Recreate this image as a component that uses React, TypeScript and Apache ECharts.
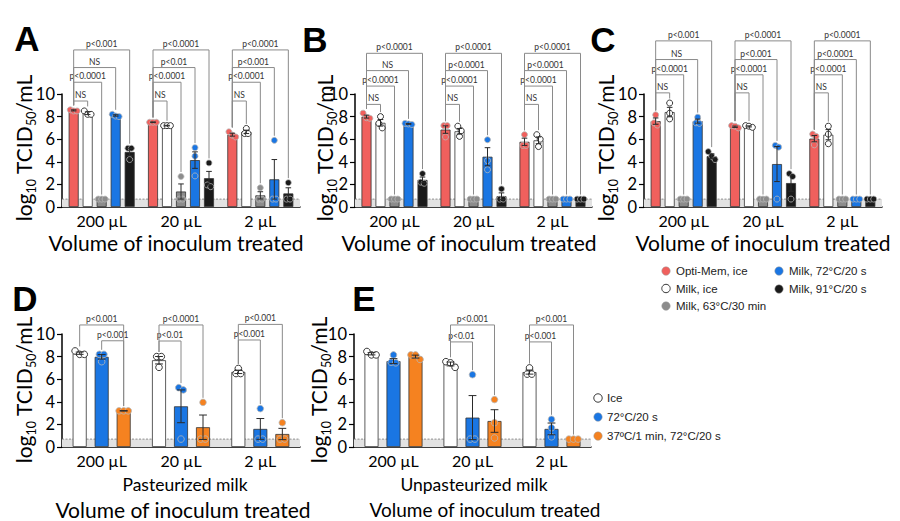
import React, { useEffect, useRef } from 'react';
import * as echarts from 'echarts';

// ---------- categories & series ----------
const volumes = ['200 µL', '20 µL', '2 µL'];
const abcNames = ['Opti-Mem, ice', 'Milk, ice', 'Milk, 63°C/30 min', 'Milk, 72°C/20 s', 'Milk, 91°C/20 s'];
const abcColors = ['#f0605d', '#ffffff', '#8c8c8c', '#1a76e3', '#1a1a1a'];
const deNames = ['Ice', '72°C/20 s', '37ºC/1 min, 72°C/20 s'];
const deColors = ['#ffffff', '#1a76e3', '#f58220'];
const lod = 0.7;

// ---------- Panel A ----------
const aMean = [
  [8.55, 7.5, 6.4],
  [8.3, 7.2, 6.65],
  [0.7, 1.37, 1.03],
  [8.1, 4.15, 2.45],
  [4.87, 2.55, 1.2],
];
const aSem = [
  [0.05, 0.03, 0.13],
  [0.12, 0.03, 0.15],
  [0, 0.67, 0.32],
  [0.06, 0.73, 1.75],
  [0.33, 0.6, 0.5],
];
const aPts = [
  [[8.6, 8.5, 8.5], [7.5, 7.5, 7.5], [6.65, 6.35, 6.2]],
  [[8.5, 8.2, 8.2], [7.2, 7.2, 7.2], [6.95, 6.5, 6.5]],
  [[0.7, 0.7, 0.7], [2.7, 0.7, 0.7], [1.7, 0.7, 0.7]],
  [[8.2, 8.05, 8.0], [5.25, 4.5, 2.75], [5.9, 0.7, 0.7]],
  [[5.2, 5.2, 4.2], [3.9, 1.95, 1.8], [2.15, 0.7, 0.7]],
];
const aBrackets = [
  [0, 0, 1, 9.38, 'NS'], [0, 0, 2, 11.04, 'p<0.0001'], [0, 0, 3, 12.34, 'NS'], [0, 0, 4, 13.9, 'p<0.001'],
  [1, 0, 1, 9.38, 'NS'], [1, 0, 2, 11.04, 'p<0.0001'], [1, 0, 3, 12.34, 'p<0.01'], [1, 0, 4, 13.9, 'p<0.0001'],
  [2, 0, 1, 9.38, 'NS'], [2, 0, 2, 11.04, 'p<0.0001'], [2, 0, 3, 12.34, 'p<0.001'], [2, 0, 4, 13.9, 'p<0.0001'],
];

// ---------- Panel B ----------
const bMean = [
  [8.0, 6.85, 5.77],
  [7.45, 6.7, 5.9],
  [0.7, 0.7, 0.7],
  [7.35, 4.45, 0.7],
  [2.4, 0.95, 0.7],
];
const bSem = [
  [0.13, 0.33, 0.32],
  [0.29, 0.25, 0.3],
  [0, 0, 0],
  [0.03, 0.8, 0],
  [0.25, 0.3, 0],
];
const bPts = [
  [[8.3, 7.9, 7.85], [7.2, 7.2, 6.2], [6.4, 5.45, 5.45]],
  [[8.0, 7.4, 7.0], [7.15, 6.75, 6.25], [6.4, 6.0, 5.35]],
  [[0.7, 0.7, 0.7], [0.7, 0.7, 0.7], [0.7, 0.7, 0.7]],
  [[7.4, 7.35, 7.3], [5.95, 4.1, 3.3], [0.7, 0.7, 0.7]],
  [[2.95, 2.2, 2.1], [1.6, 0.7, 0.7], [0.7, 0.7, 0.7]],
];
const bBrackets = [
  [0, 0, 1, 9.08, 'NS'], [0, 0, 2, 10.7, 'p<0.0001'], [0, 0, 3, 12.07, 'NS'], [0, 0, 4, 13.6, 'p<0.0001'],
  [1, 0, 1, 9.08, 'NS'], [1, 0, 2, 10.7, 'p<0.0001'], [1, 0, 3, 12.07, 'p<0.0001'], [1, 0, 4, 13.6, 'p<0.0001'],
  [2, 0, 1, 9.08, 'NS'], [2, 0, 2, 10.7, 'p<0.0001'], [2, 0, 3, 12.07, 'p<0.0001'], [2, 0, 4, 13.6, 'p<0.0001'],
];

// ---------- Panel C ----------
const cMean = [
  [7.6, 7.1, 6.05],
  [8.4, 7.13, 6.4],
  [0.7, 0.7, 0.7],
  [7.6, 3.8, 0.7],
  [4.5, 2.12, 0.7],
];
const cSem = [
  [0.28, 0.06, 0.28],
  [0.42, 0.05, 0.45],
  [0, 0, 0],
  [0.18, 1.55, 0],
  [0.2, 0.72, 0],
];
const cPts = [
  [[8.15, 7.45, 7.25], [7.2, 7.15, 7.0], [6.45, 6.25, 5.5]],
  [[9.2, 8.3, 7.8], [7.2, 7.15, 7.05], [7.15, 6.45, 5.6]],
  [[0.7, 0.7, 0.7], [0.7, 0.7, 0.7], [0.7, 0.7, 0.7]],
  [[7.95, 7.45, 7.4], [5.45, 5.3, 0.7], [0.7, 0.7, 0.7]],
  [[4.9, 4.5, 4.2], [2.95, 2.7, 0.7], [0.7, 0.7, 0.7]],
];
const cBrackets = [
  [0, 0, 1, 10.1, 'NS'], [0, 0, 2, 11.7, 'p<0.0001'], [0, 0, 3, 13.05, 'NS'], [0, 0, 4, 14.7, 'p<0.001'],
  [1, 0, 1, 10.1, 'NS'], [1, 0, 2, 11.7, 'p<0.0001'], [1, 0, 3, 13.05, 'p<0.001'], [1, 0, 4, 14.7, 'p<0.0001'],
  [2, 0, 1, 10.1, 'NS'], [2, 0, 2, 11.7, 'p<0.0001'], [2, 0, 3, 13.05, 'p<0.0001'], [2, 0, 4, 14.7, 'p<0.0001'],
];

// ---------- Panel D (pasteurized) ----------
const dMean = [
  [8.3, 7.68, 6.65],
  [7.98, 3.6, 1.6],
  [3.2, 1.75, 1.15],
];
const dSem = [
  [0.1, 0.33, 0.15],
  [0.2, 1.45, 0.92],
  [0.02, 1.08, 0.5],
];
const dPts = [
  [[8.5, 8.2, 8.2], [8.0, 8.0, 7.05], [6.95, 6.5, 6.5]],
  [[8.2, 8.2, 7.55], [5.25, 5.05, 0.7], [3.4, 0.7, 0.7]],
  [[3.2, 3.2, 3.2], [3.95, 0.7, 0.7], [2.15, 0.7, 0.7]],
];
const dBrackets = [
  [0, 1, 2, 9.4, 'p<0.001'], [0, 0, 2, 10.8, 'p<0.001'],
  [1, 0, 1, 9.38, 'p<0.01'], [1, 0, 2, 10.8, 'p<0.0001'],
  [2, 0, 1, 9.47, 'p<0.001'], [2, 0, 2, 10.85, 'p<0.001'],
];

// ---------- Panel E (unpasteurized) ----------
const eMean = [
  [8.25, 7.35, 6.63],
  [7.6, 2.6, 1.6],
  [8.0, 2.3, 0.7],
];
const eSem = [
  [0.1, 0.17, 0.18],
  [0.22, 1.95, 0.52],
  [0.13, 1.0, 0],
];
const ePts = [
  [[8.45, 8.15, 8.15], [7.55, 7.45, 7.05], [7.0, 6.45, 6.45]],
  [[8.15, 7.5, 7.45], [6.4, 0.7, 0.7], [2.45, 1.7, 0.9]],
  [[8.15, 8.15, 7.75], [4.2, 2.15, 0.8], [0.7, 0.7, 0.7]],
];
const eBrackets = [
  [1, 0, 1, 9.3, 'p<0.01'], [1, 0, 2, 10.8, 'p<0.001'],
  [2, 0, 1, 9.3, 'p<0.001'], [2, 0, 2, 10.8, 'p<0.001'],
];

// ---------- layout ----------
const FONT = 'Lato, "Open Sans", sans-serif';
const ARIAL = '"Liberation Sans", Arial, sans-serif';

const panels = [
  { mean: aMean, sem: aSem, pts: aPts, br: aBrackets, colors: abcColors, names: abcNames, left: 62, top: 94, width: 238, barW: 10, gap: 4, r: 3, sp: 3.4 },
  { mean: bMean, sem: bSem, pts: bPts, br: bBrackets, colors: abcColors, names: abcNames, left: 355, top: 94, width: 237, barW: 10, gap: 4, r: 3, sp: 3.4 },
  { mean: cMean, sem: cSem, pts: cPts, br: cBrackets, colors: abcColors, names: abcNames, left: 644, top: 94, width: 238, barW: 10, gap: 4, r: 3, sp: 3.4 },
  { mean: dMean, sem: dSem, pts: dPts, br: dBrackets, colors: deColors, names: deNames, left: 62, top: 334, width: 238, barW: 14, gap: 8, r: 3.3, sp: 4.6 },
  { mean: eMean, sem: eSem, pts: ePts, br: eBrackets, colors: deColors, names: deNames, left: 354, top: 334, width: 237, barW: 14, gap: 8, r: 3.3, sp: 4.6 },
];

function spreadOffsets(vals: number[], thr: number, sp: number): number[] {
  const idx = vals.map((v, i) => i).sort((a, b) => vals[b] - vals[a]);
  const out = new Array(vals.length).fill(0);
  let cluster: number[] = [];
  const flush = () => {
    const n = cluster.length;
    cluster.sort((a, b) => a - b).forEach((id, k) => { out[id] = (k - (n - 1) / 2) * sp; });
    cluster = [];
  };
  idx.forEach((id) => {
    if (cluster.length && Math.abs(vals[cluster[cluster.length - 1]] - vals[id]) >= thr) flush();
    cluster.push(id);
  });
  flush();
  return out;
}

function buildOption() {
  const grid: any[] = [];
  const xAxis: any[] = [];
  const yAxis: any[] = [];
  const series: any[] = [];

  panels.forEach((p, pi) => {
    const n = p.mean.length;
    const step = p.barW + p.gap;
    const off = (s: number) => (s - (n - 1) / 2) * step;
    grid.push({ left: p.left, top: p.top, width: p.width, height: 113 });
    xAxis.push({
      type: 'category', gridIndex: pi, data: volumes,
      axisLine: { lineStyle: { color: '#000', width: 1.5 } },
      axisTick: { alignWithLabel: true, length: 5, lineStyle: { color: '#000', width: 1.2 } },
      axisLabel: { fontSize: 16, fontFamily: FONT, color: '#000', margin: 5, lineHeight: 16 },
    });
    yAxis.push({
      type: 'value', gridIndex: pi, min: 0, max: 10, interval: 2,
      axisLine: { show: true, lineStyle: { color: '#000', width: 1.5 } },
      axisTick: { show: true, length: 5, lineStyle: { color: '#000', width: 1.2 } },
      splitLine: { show: false },
      axisLabel: { fontSize: 16.5, fontFamily: FONT, color: '#000', margin: 7 },
    });

    // LOD band + dashed line
    series.push({
      type: 'custom', xAxisIndex: pi, yAxisIndex: pi, z: 1, clip: false, silent: true,
      data: [[0, lod]],
      renderItem: (params: any, api: any) => {
        const cs = params.coordSys;
        const y0 = api.coord([0, 0])[1];
        const y1 = api.coord([0, lod])[1];
        return {
          type: 'group', children: [
            { type: 'rect', shape: { x: cs.x, y: y1, width: cs.width, height: y0 - y1 }, style: { fill: '#e2e2e2' } },
            { type: 'line', shape: { x1: cs.x, y1: y1, x2: cs.x + cs.width, y2: y1 }, style: { stroke: '#777', lineWidth: 0.8, lineDash: [2, 1.5] } },
          ],
        };
      },
    });

    // bars
    p.mean.forEach((vals, s) => {
      series.push({
        type: 'bar', name: p.names[s], xAxisIndex: pi, yAxisIndex: pi, z: 2,
        data: vals, barWidth: p.barW, barGap: `${(p.gap / p.barW) * 100}%`,
        itemStyle: { color: p.colors[s], borderColor: '#333', borderWidth: 0.8 },
      });
    });

    // error bars
    const errData: any[] = [];
    p.mean.forEach((vals, s) => vals.forEach((m, g) => errData.push([g, s, m, p.sem[s][g]])));
    series.push({
      type: 'custom', xAxisIndex: pi, yAxisIndex: pi, z: 4, clip: false, silent: true,
      data: errData,
      renderItem: (params: any, api: any) => {
        const g = api.value(0), s = api.value(1), m = api.value(2), e = api.value(3);
        if (e < 0.02) return null;
        const x = api.coord([g, m])[0] + off(s);
        const yt = api.coord([g, m + e])[1];
        const yb = api.coord([g, m - e])[1];
        const cw = p.barW * 0.28;
        const st = { stroke: '#2a2a2a', lineWidth: 1 };
        return {
          type: 'group', children: [
            { type: 'line', shape: { x1: x, y1: yt, x2: x, y2: yb }, style: st },
            { type: 'line', shape: { x1: x - cw, y1: yt, x2: x + cw, y2: yt }, style: st },
            { type: 'line', shape: { x1: x - cw, y1: yb, x2: x + cw, y2: yb }, style: st },
          ],
        };
      },
    });

    // individual points
    const ptData: any[] = [];
    p.pts.forEach((groups, s) => groups.forEach((vals, g) => {
      const dx = spreadOffsets(vals, 0.45, p.sp);
      vals.forEach((v, k) => ptData.push([g, s, v, dx[k]]));
    }));
    series.push({
      type: 'custom', xAxisIndex: pi, yAxisIndex: pi, z: 3, clip: false, silent: true,
      data: ptData,
      renderItem: (params: any, api: any) => {
        const g = api.value(0), s = api.value(1), v = api.value(2), dx = api.value(3);
        const c = api.coord([g, v]);
        const col = p.colors[s];
        const white = col === '#ffffff';
        return {
          type: 'circle', shape: { cx: c[0] + off(s) + dx, cy: c[1], r: p.r },
          style: { fill: col, stroke: white ? '#222' : '#b8b8b8', lineWidth: white ? 0.9 : 0.8 },
        };
      },
    });

    // significance brackets
    const topOf = (s: number, g: number) => Math.max(...p.pts[s][g], p.mean[s][g] + p.sem[s][g]) + 0.4;
    const brData = p.br.map((b: any[]) => [b[0], b[1], b[2], b[3], topOf(b[1], b[0]), topOf(b[2], b[0])]);
    series.push({
      type: 'custom', xAxisIndex: pi, yAxisIndex: pi, z: 5, clip: false, silent: true,
      data: brData,
      renderItem: (params: any, api: any) => {
        const i = params.dataIndex;
        const g = api.value(0), f = api.value(1), t = api.value(2), lv = api.value(3), le = api.value(4), re = api.value(5);
        const cx = api.coord([g, lv]);
        const xf = cx[0] + off(f), xt = cx[0] + off(t);
        const yl = cx[1];
        const ylE = api.coord([g, le])[1];
        const yrE = api.coord([g, re])[1];
        return {
          type: 'group', children: [
            { type: 'polyline', shape: { points: [[xf, ylE], [xf, yl], [xt, yl], [xt, yrE]] }, style: { stroke: '#8a8a8a', lineWidth: 1, fill: 'none' } },
            { type: 'text', x: (xf + xt) / 2, y: yl - 1.5, style: { text: p.br[i][4], fontSize: 8.5, fontFamily: FONT, fill: '#333', align: 'center', verticalAlign: 'bottom' } },
          ],
        };
      },
    });
  });

  const graphic: any[] = [];
  // panel letters
  [['A', 27, 38], ['B', 315, 39], ['C', 603, 39], ['D', 25, 298], ['E', 364, 298]].forEach(([t, x, y]) => {
    graphic.push({ type: 'text', x, y, style: { text: t, fontSize: 35, fontWeight: 'bold', fontFamily: ARIAL, fill: '#000', align: 'center', verticalAlign: 'middle' } });
  });
  // x-axis titles
  const xTitles: any[] = [
    ['Volume of inoculum treated', 176, 242, 21], ['Volume of inoculum treated', 469, 242, 21], ['Volume of inoculum treated', 763, 242, 21],
    ['Pasteurized milk', 185, 484, 17.5], ['Volume of inoculum treated', 183, 509, 21],
    ['Unpasteurized milk', 474, 484, 17.5], ['Volume of inoculum treated', 485, 509, 19],
  ];
  xTitles.forEach(([t, x, y, fs]) => {
    graphic.push({ type: 'text', x, y, style: { text: t, fontSize: fs, fontFamily: FONT, fill: '#000', align: 'center', verticalAlign: 'middle', lineHeight: fs } });
  });
  // y-axis titles
  [[23, 148], [324, 148], [605, 148], [23, 390], [318, 390]].forEach(([x, y]) => {
    graphic.push({
      type: 'text', x, y, rotation: Math.PI / 2,
      style: {
        text: '{m|log}{s|10}{m| TCID}{s|50}{m|/mL}',
        align: 'center', verticalAlign: 'middle',
        rich: {
          m: { fontSize: 21, fontFamily: FONT, fill: '#000', lineHeight: 30, verticalAlign: 'middle' },
          s: { fontSize: 12.5, fontFamily: FONT, fill: '#000', lineHeight: 13, verticalAlign: 'bottom' },
        },
      },
    });
  });
  // legend ABC
  const legA: any[] = [[666, 271, 0], [666, 288.5, 1], [666, 306, 2], [779, 271, 3], [779, 289, 4]];
  legA.forEach(([x, y, s]) => {
    const white = abcColors[s] === '#ffffff';
    graphic.push({ type: 'circle', shape: { cx: x, cy: y, r: 4.2 }, style: { fill: abcColors[s], stroke: white ? '#222' : '#999', lineWidth: white ? 0.9 : 0.5 } });
    graphic.push({ type: 'text', x: x + 10, y, style: { text: abcNames[s], fontSize: 11.5, fontFamily: ARIAL, fill: '#222', align: 'left', verticalAlign: 'middle' } });
  });
  // legend DE
  const legD: any[] = [[598, 398, 0], [598, 417, 1], [598, 436, 2]];
  legD.forEach(([x, y, s]) => {
    const white = deColors[s] === '#ffffff';
    graphic.push({ type: 'circle', shape: { cx: x, cy: y, r: 4.2 }, style: { fill: deColors[s], stroke: white ? '#222' : '#999', lineWidth: white ? 0.9 : 0.5 } });
    graphic.push({ type: 'text', x: x + 9, y, style: { text: deNames[s], fontSize: 11.5, fontFamily: ARIAL, fill: '#222', align: 'left', verticalAlign: 'middle' } });
  });

  return { animation: false, backgroundColor: '#fff', grid, xAxis, yAxis, series, graphic };
}

export default function App() {
  const ref = useRef<HTMLDivElement>(null);
  useEffect(() => {
    document.body.style.margin = '0';
    if (!ref.current) return;
    const chart = echarts.init(ref.current, undefined, { renderer: 'svg' });
    chart.setOption(buildOption() as any);
    return () => chart.dispose();
  }, []);
  return <div ref={ref} style={{ width: 900, height: 521 }} />;
}
